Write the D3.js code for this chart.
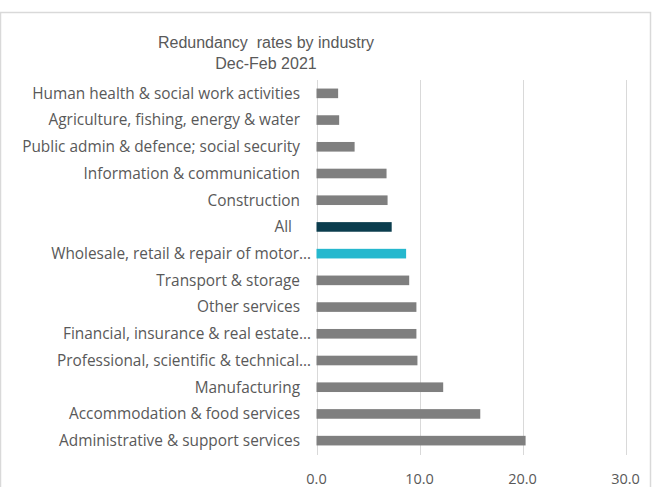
<!DOCTYPE html>
<html>
<head>
<meta charset="utf-8">
<script src="https://cdn.jsdelivr.net/npm/d3@7"></script>
<style>
  body { margin: 0; background: #fff; }
  svg { display: block; }
  .lbl { font-family: "Open Sans", Lato, sans-serif; font-size: 15.4px; fill: #595959; white-space: pre; }
  .tick { font-family: "Open Sans", Lato, sans-serif; font-size: 14.5px; fill: #595959; }
  .ttl { font-family: "Liberation Sans", Arial, sans-serif; font-size: 16px; fill: #595959; white-space: pre; }
</style>
</head>
<body>
<div id="chart"></div>
<script>
// Data
var industries = [
  "Human health & social work activities",
  "Agriculture, fishing, energy & water",
  "Public admin & defence; social security",
  "Information & communication",
  "Construction",
  "All",
  "Wholesale, retail & repair of motor\u2026",
  "Transport & storage",
  "Other services",
  "Financial, insurance & real estate\u2026",
  "Professional, scientific & technical\u2026",
  "Manufacturing",
  "Accommodation & food services",
  "Administrative & support services"
];
var rates = [2.1, 2.2, 3.7, 6.8, 6.9, 7.3, 8.7, 9.0, 9.7, 9.7, 9.8, 12.3, 15.9, 20.3];
var tickValues = [0, 10, 20, 30];
var highlight = { "All": "#0b3d4e", "Wholesale, retail & repair of motor\u2026": "#25b8ce" };

var w = 652, h = 487;

var svg = d3.select("#chart").append("svg")
  .attr("width", w)
  .attr("height", h);

// chart border
svg.append("rect")
  .attr("x", 0.5).attr("y", 12.5)
  .attr("width", 650).attr("height", 490)
  .attr("fill", "#fff")
  .attr("stroke", "#d9d9d9")
  .attr("stroke-width", 1.5);

var x = d3.scaleLinear().domain([0, 30]).range([316.5, 625.5]);
var y = d3.scaleBand().domain(industries).range([80, 454]).paddingInner(0.64).paddingOuter(0.32);

// gridlines
svg.append("g").selectAll("line")
  .data(tickValues)
  .enter().append("line")
    .attr("x1", function(d) { return Math.round(x(d)) + 0.5; })
    .attr("x2", function(d) { return Math.round(x(d)) + 0.5; })
    .attr("y1", 80)
    .attr("y2", 455)
    .attr("stroke", "#d9d9d9")
    .attr("stroke-width", 1);

// bars
svg.append("g").selectAll("rect")
  .data(industries)
  .enter().append("rect")
    .attr("x", x(0))
    .attr("y", function(d) { return y(d); })
    .attr("width", function(d, i) { return x(rates[i]) - x(0); })
    .attr("height", y.bandwidth())
    .attr("fill", function(d) { return highlight[d] || "#7f7f7f"; });

// category labels
svg.append("g").selectAll("text")
  .data(industries)
  .enter().append("text")
    .attr("class", "lbl")
    .attr("x", function(d) { return d.slice(-1) === "\u2026" ? 311 : (d === "All" ? 292 : 300); })
    .attr("y", function(d) { return y(d) + y.bandwidth() / 2; })
    .attr("dy", "0.35em")
    .attr("text-anchor", "end")
    .text(function(d) { return d; });

// x axis tick labels
svg.append("g").selectAll("text")
  .data(tickValues)
  .enter().append("text")
    .attr("class", "tick")
    .attr("x", function(d) { return x(d); })
    .attr("y", 479)
    .attr("dy", "0.35em")
    .attr("text-anchor", "middle")
    .text(function(d) { return d3.format(".1f")(d); });

// title
svg.append("text")
  .attr("class", "ttl")
  .attr("x", 266).attr("y", 42).attr("dy", "0.35em")
  .attr("text-anchor", "middle")
  .text("Redundancy  rates by industry");
svg.append("text")
  .attr("class", "ttl")
  .attr("x", 266).attr("y", 63).attr("dy", "0.35em")
  .attr("text-anchor", "middle")
  .text("Dec-Feb 2021");
</script>
</body>
</html>
